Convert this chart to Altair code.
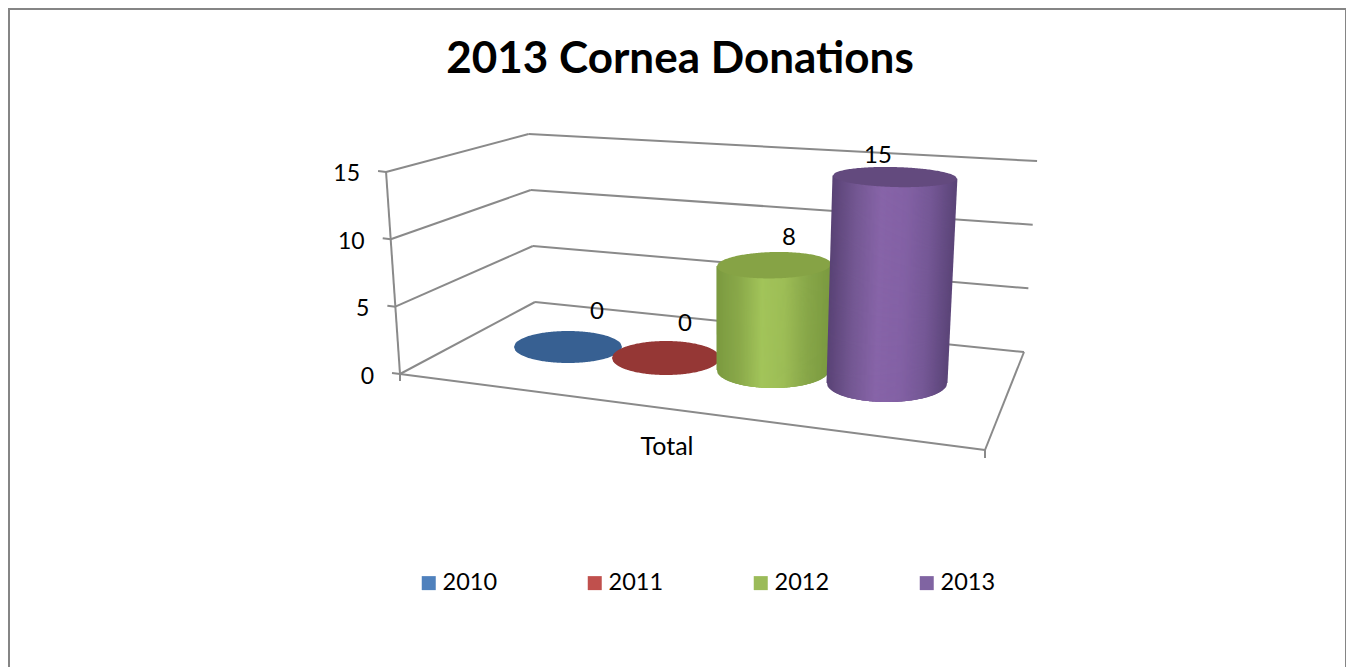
import math
import altair as alt
import pandas as pd

# ---- chart values ----
years = ["2010", "2011", "2012", "2013"]
donations = [0, 0, 8, 15]
ticks = [0, 5, 10, 15]
category = "Total"
title = "2013 Cornea Donations"
legend_colors = ["#4f81bd", "#c0504d", "#9bbb59", "#8064a2"]
disc_colors = ["#376092", "#953735", "#86a345", "#634a7e"]
side_stops = [
    None,
    None,
    ["#7b9a40", "#8aa94a", "#a2c45a", "#9dbd56", "#88a749", "#7b9a40"],
    ["#5a4376", "#745893", "#8764a8", "#8361a5", "#755896", "#5c4579"],
]

FONT = "Lato"
GRAY = "#8a8a8a"
WIDTH, HEIGHT = 1338, 659

# ---- oblique 3-D frame: value -> picture position along each wall edge ----
def front_left(v):
    return 400 - 0.93 * v, 374 - 13.47 * v

def back_left(v):
    return 535 - 0.42 * v, 302 - 11.2 * v

def back_right(v):
    return 1024 + 0.87 * v, 352 - 12.73 * v

FRONT_RIGHT = (985, 450)

segments = []
def seg(a, b):
    segments.append({"x": a[0], "y": a[1], "x2": b[0], "y2": b[1]})

for t in ticks:
    seg(front_left(t), back_left(t))
    seg(back_left(t), back_right(t))
    fl = front_left(t)
    seg((fl[0] - 8, fl[1] - 1), fl)
seg(front_left(0), front_left(15))
seg(front_left(0), FRONT_RIGHT)
seg(FRONT_RIGHT, back_right(0))
seg(front_left(0), (400, 381))
seg(FRONT_RIGHT, (985, 458))

frame = pd.DataFrame([
    {"x": 9, "y": 9, "x2": 9, "y2": 667},
    {"x": 8, "y": 9, "x2": 1346, "y2": 9},
    {"x": 1346, "y": 8, "x2": 1346, "y2": 667},
])

# ---- cylinder placement ----
base_x = [568, 666, 773, 887]
base_y = [347, 358, 370, 383]
base_rx = [54, 54, 56, 60]
base_ry = [16, 17, 18, 19]
unit_h = [12.5, 12.8, 13.1, 13.73]
lean = [0.0, 0.0, 0.12, 0.53]
top_tilt = [0.0, 0.0, -0.02, 0.025]
label_off = [(29, -35), (19, -34), (15, -27), (-17, -21)]

def lerp_color(stops, f):
    p = f * (len(stops) - 1)
    i = min(int(p), len(stops) - 2)
    k = p - i
    a = [int(stops[i][j:j + 2], 16) for j in (1, 3, 5)]
    b = [int(stops[i + 1][j:j + 2], 16) for j in (1, 3, 5)]
    return "#%02x%02x%02x" % tuple(round(a[n] + (b[n] - a[n]) * k) for n in range(3))

def ellipse_rows(cx, cy, rx, ry, tilt, n=90):
    rows = []
    for i in range(n + 1):
        f = i / n
        c = 2 * f - 1
        s = math.sqrt(max(0.0, 1 - c * c))
        x = cx + rx * c
        mid = cy + tilt * rx * c
        rows.append({"x": x, "y": mid - ry * s, "y2": mid + ry * s})
    return rows

xs = alt.Scale(domain=[8, 8 + WIDTH], nice=False, zero=False)
ys = alt.Scale(domain=[8 + HEIGHT, 8], nice=False, zero=False)
X = alt.X("x:Q", scale=xs, axis=None)
Y = alt.Y("y:Q", scale=ys, axis=None)

layers = []

layers.append(
    alt.Chart(frame).mark_rule(color="#858585", strokeWidth=2).encode(X, Y, x2="x2:Q", y2="y2:Q")
)
layers.append(
    alt.Chart(pd.DataFrame(segments)).mark_rule(color=GRAY, strokeWidth=2).encode(X, Y, x2="x2:Q", y2="y2:Q")
)

labels = []
for i, (yr, val) in enumerate(zip(years, donations)):
    cx, cy, rx, ry = base_x[i], base_y[i], base_rx[i], base_ry[i]
    tx = cx + lean[i] * val
    ty = cy - unit_h[i] * val
    trx = rx + 0.13 * val
    try_ = ry - 0.6 * val
    if val > 0:
        base_disc = pd.DataFrame(ellipse_rows(cx, cy, rx, ry, 0.0))
        layers.append(
            alt.Chart(base_disc).mark_area(color=side_stops[i][0], interpolate="linear").encode(X, Y, y2="y2:Q")
        )
        strips = []
        n = int(2 * rx)
        for k in range(n + 1):
            f = k / n
            c = 2 * f - 1
            s = math.sqrt(max(0.0, 1 - c * c))
            strips.append({
                "x": cx + (rx - 0.5) * c,
                "y": cy + ry * s,
                "x2": tx + (trx - 0.5) * c,
                "y2": ty + top_tilt[i] * trx * c,
                "c": lerp_color(side_stops[i], f),
            })
        layers.append(
            alt.Chart(pd.DataFrame(strips)).mark_rule(strokeWidth=2).encode(
                X, Y, x2="x2:Q", y2="y2:Q",
                stroke=alt.Stroke("c:N", scale=None, legend=None),
            )
        )
    disc = pd.DataFrame(ellipse_rows(tx, ty, trx, try_, top_tilt[i]))
    layers.append(
        alt.Chart(disc).mark_area(color=disc_colors[i], interpolate="linear").encode(X, Y, y2="y2:Q")
    )
    labels.append({"x": tx + label_off[i][0], "y": ty + label_off[i][1], "t": str(val)})

def text_layer(rows, align="center", size=24, weight="normal", color="#000000"):
    return alt.Chart(pd.DataFrame(rows)).mark_text(
        font=FONT, fontSize=size, fontWeight=weight, align=align, baseline="middle", color=color
    ).encode(X, Y, text="t:N")

layers.append(text_layer(labels))
layers.append(text_layer(
    [{"x": front_left(t)[0] - 26, "y": front_left(t)[1] + 2.5, "t": str(t)} for t in ticks],
    align="right", size=23,
))
layers.append(text_layer([{"x": 667, "y": 447, "t": category}], size=25))

# real legend, fed by the series table
series = pd.DataFrame({"year": years, "value": donations, "x": base_x, "y": base_y})
layers.append(
    alt.Chart(series).mark_square(size=0, opacity=0).encode(
        X, Y,
        color=alt.Color(
            "year:N",
            scale=alt.Scale(domain=years, range=legend_colors),
            legend=alt.Legend(
                title=None, orient="none", legendX=409, legendY=563, direction="horizontal",
                columns=4, columnPadding=85, symbolType="square", symbolSize=196,
                symbolOpacity=1, symbolStrokeWidth=0, labelFont=FONT, labelFontSize=23.5,
                labelColor="#000000", labelOffset=2, labelLimit=200,
            ),
        ),
    )
)

chart = alt.layer(*layers).properties(
    width=WIDTH,
    height=HEIGHT,
    padding=0,
    autosize=alt.AutoSizeParams(type="none"),
    title=alt.TitleParams(
        text=title, font=FONT, fontSize=44, fontWeight="bold", color="#000000",
        anchor="middle", frame="group", dx=3, dy=79,
    ),
).configure_view(stroke=None)

chart.save("out.html", embed_options={"renderer": "svg", "actions": False})
